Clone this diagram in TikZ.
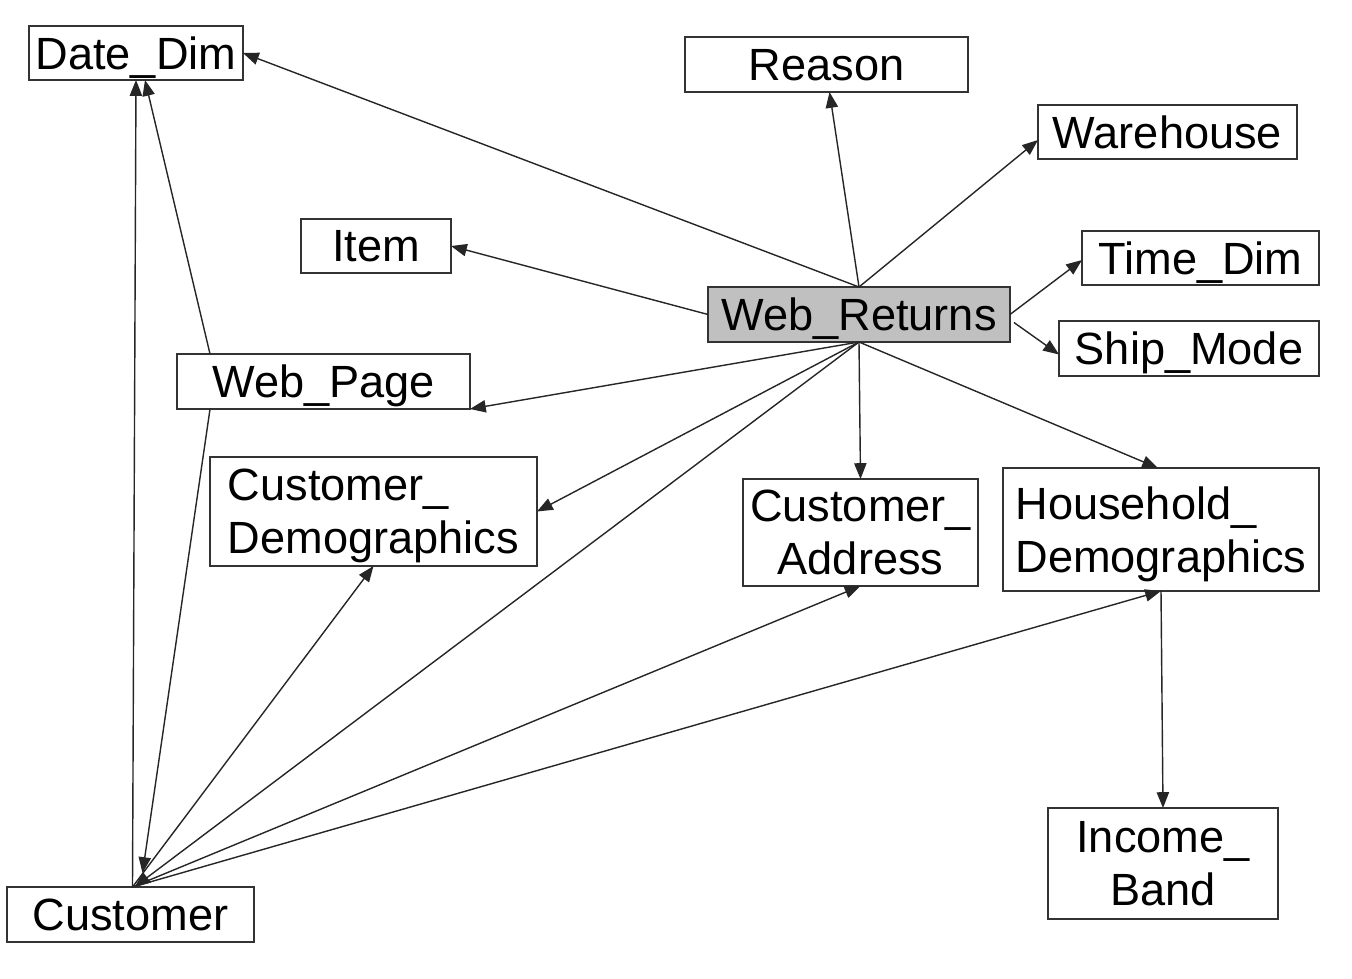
\documentclass[tikz,border=0pt]{standalone}
\usepackage{fontspec}
\setmainfont{Liberation Sans}
\usetikzlibrary{arrows.meta,calc}
\definecolor{grisfondo}{RGB}{192,192,192}

\begin{document}
\begin{tikzpicture}[x=0.02cm, y=-0.02cm,
  tabla/.style={draw=black!80, line width=0.8pt, inner sep=0pt, outer sep=0pt,
    text depth=0pt, font=\fontsize{25.7}{30}\selectfont},
  flecha/.style={draw=black!85, line width=0.8pt, -{Triangle[length=9pt,width=7pt]}}]
\useasboundingbox (0,0) rectangle (1352,978);

% Tabla central de hechos
\node[tabla, fill=grisfondo, minimum width=6.04cm, minimum height=1.10cm] (wr) at (859,314.5) {Web\_Returns}; % Nodo Web_Returns

% Dimensiones arriba
\node[tabla, minimum width=4.28cm, minimum height=1.08cm] (datedim) at (136,53) {Date\_Dim};
\node[tabla, minimum width=5.66cm, minimum height=1.10cm] (reason) at (826.5,64.5) {Reason};
\node[tabla, minimum width=5.18cm, minimum height=1.08cm] (warehouse) at (1167.5,132) {Warehouse};
\node[tabla, minimum width=3.00cm, minimum height=1.08cm] (item) at (376,246) {Item};
\node[tabla, minimum width=4.74cm, minimum height=1.08cm] (timedim) at (1200.5,258) {Time\_Dim};
\node[tabla, minimum width=5.20cm, minimum height=1.10cm] (shipmode) at (1189,348.5) {Ship\_Mode};

% Dimensiones abajo
\node[tabla, minimum width=5.86cm, minimum height=1.10cm] (webpage) at (323.5,381.5) {Web\_Page};
\node[tabla, align=left, minimum width=6.54cm, minimum height=2.18cm] (custdemo) at (373.5,511.5) {Customer\_\\Demographics};
\node[tabla, align=center, minimum width=4.70cm, minimum height=2.14cm] (custaddr) at (860.5,532.5) {Customer\_\\Address};
\node[tabla, align=left, minimum width=6.32cm, minimum height=2.46cm] (hhdemo) at (1161,529.5) {Household\_\\Demographics};
\node[tabla, align=center, minimum width=4.60cm, minimum height=2.22cm] (income) at (1163,863.5) {Income\_\\Band};
\node[tabla, minimum width=4.94cm, minimum height=1.10cm] (customer) at (130.5,914.5) {Customer};

% Desde Web_Returns
\draw[flecha] (wr.north) -- (datedim.east);
\draw[flecha] (wr.north) -- ($(reason.south)+(3,0)$);
\draw[flecha] (wr.north) -- ($(warehouse.west)+(0,8)$);
\draw[flecha] (wr.west) -- (item.east);
\draw[flecha] (wr.east) -- ($(timedim.west)+(0,2)$);
\draw[flecha] ($(wr.east)+(4,8)$) -- ($(shipmode.west)+(0,6)$);
\draw[flecha] (wr.south) -- (webpage.south east);
\draw[flecha] (wr.south) -- (custdemo.east);
\draw[flecha] (wr.south) -- (custaddr.north);
\draw[flecha] (wr.south) -- ($(hhdemo.north)+(-3,0)$);
\draw[flecha] (wr.south) -- ($(customer.north)+(4,0)$);

% Desde Web_Page
\draw[flecha] ($(webpage.north west)+(33,0)$) -- ($(datedim.south)+(9,0)$);
\draw[flecha] ($(webpage.south west)+(33,0)$) -- ($(customer.north)+(12,-14)$);

% Desde Customer
\draw[flecha] ($(customer.north)+(2,0)$) -- (datedim.south);
\draw[flecha] ($(customer.north)+(2,0)$) -- (custdemo.south);
\draw[flecha] ($(customer.north)+(2,0)$) -- (custaddr.south);
\draw[flecha] ($(customer.north)+(2,0)$) -- (hhdemo.south);

% Household -> Income
\draw[flecha] (hhdemo.south) -- (income.north);

\end{tikzpicture}
\end{document}
